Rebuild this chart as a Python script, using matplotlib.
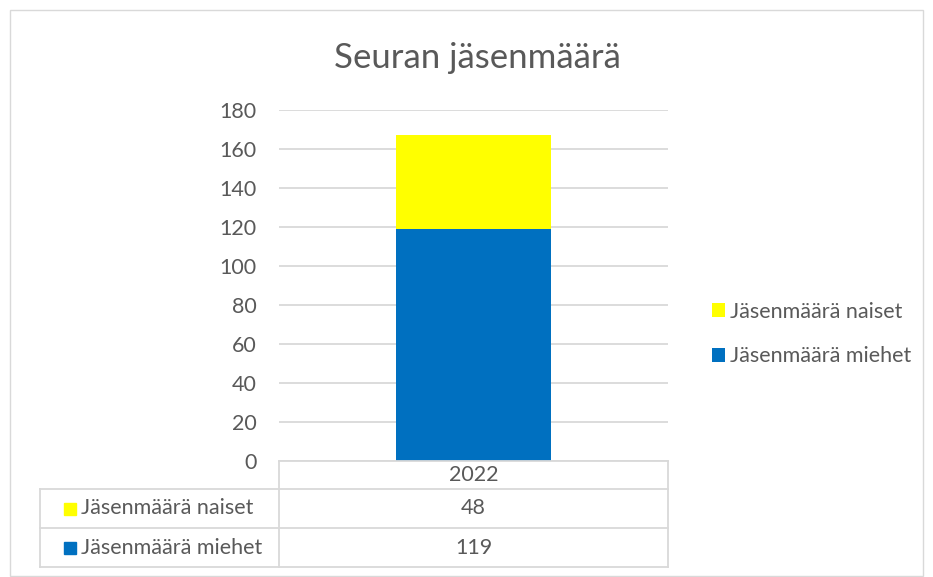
import matplotlib.pyplot as plt
from matplotlib.patches import Rectangle
from matplotlib.lines import Line2D

plt.rcParams['font.family'] = ['Lato', 'DejaVu Sans']

years = ["2022"]
series = ["Jäsenmäärä miehet", "Jäsenmäärä naiset"]
miehet = [119]
naiset = [48]
colors = ["#0070C0", "#FFFF00"]
txt = "#595959"
grid = "#D9D9D9"
fs = 15.5

W, H = 933, 577
fig = plt.figure(figsize=(W / 100, H / 100), dpi=100)

def fx(px):
    return px / W

def fy(py):
    return 1 - py / H

# chart border
fig.patches.append(Rectangle((fx(10), fy(576)), fx(923 - 10), fy(10) - fy(576),
                             transform=fig.transFigure, fill=False, ec=grid, lw=1))

ax = fig.add_axes([fx(279), fy(461), fx(668 - 279), fy(110) - fy(461)])
x = range(len(years))
ax.bar(x, miehet, width=0.4, color=colors[0], label=series[0], zorder=3)
ax.bar(x, naiset, bottom=miehet, width=0.4, color=colors[1], label=series[1], zorder=3)
ax.set_xlim(-0.5, len(years) - 0.5)
ax.set_ylim(0, 180)
ax.set_yticks(range(0, 181, 20))
ax.yaxis.grid(True, color=grid, lw=1.3)
ax.set_axisbelow(True)
for s in ax.spines.values():
    s.set_visible(False)
ax.tick_params(axis='y', length=0, pad=16, labelsize=fs, labelcolor=txt)
ax.set_xticks([])

fig.text(fx(477), fy(58), "Seuran jäsenmäärä", ha='center', va='center',
         fontsize=25, color=txt)

# legend (reversed order like Excel)
h, l = ax.get_legend_handles_labels()
fig.legend(h[::-1], l[::-1], loc='center left', bbox_to_anchor=(fx(693), fy(334)),
           frameon=False, fontsize=fs, labelcolor=txt, handlelength=0.6,
           handleheight=0.6, handletextpad=0.2, labelspacing=1.15)

# data table
left, mid, right = 40, 279, 668
rows_y = [461, 489, 528, 567]
def hline(x0, x1, y):
    fig.add_artist(Line2D([fx(x0), fx(x1)], [fy(y), fy(y)], transform=fig.transFigure,
                          color=grid, lw=1.3))
def vline(xx, y0, y1):
    fig.add_artist(Line2D([fx(xx), fx(xx)], [fy(y0), fy(y1)], transform=fig.transFigure,
                          color=grid, lw=1.3))

hline(mid, right, rows_y[0])
hline(left, right, rows_y[1])
hline(left, right, rows_y[2])
hline(left, right, rows_y[3])
vline(mid, rows_y[0], rows_y[3])
vline(right, rows_y[0], rows_y[3])
vline(left, rows_y[1], rows_y[3])

fig.text(fx((mid + right) / 2), fy((rows_y[0] + rows_y[1]) / 2), years[0],
         ha='center', va='center', fontsize=fs, color=txt)
table_rows = [(series[1], naiset, colors[1]), (series[0], miehet, colors[0])]
for i, (name, vals, c) in enumerate(table_rows):
    yc = (rows_y[i + 1] + rows_y[i + 2]) / 2
    fig.patches.append(Rectangle((fx(64), fy(yc + 6)), fx(12), fy(yc - 6) - fy(yc + 6),
                                 transform=fig.transFigure, color=c))
    fig.text(fx(81), fy(yc), name, ha='left', va='center', fontsize=fs, color=txt)
    fig.text(fx((mid + right) / 2), fy(yc), str(vals[0]), ha='center', va='center',
             fontsize=fs, color=txt)

fig.savefig("out.png", dpi=100)
